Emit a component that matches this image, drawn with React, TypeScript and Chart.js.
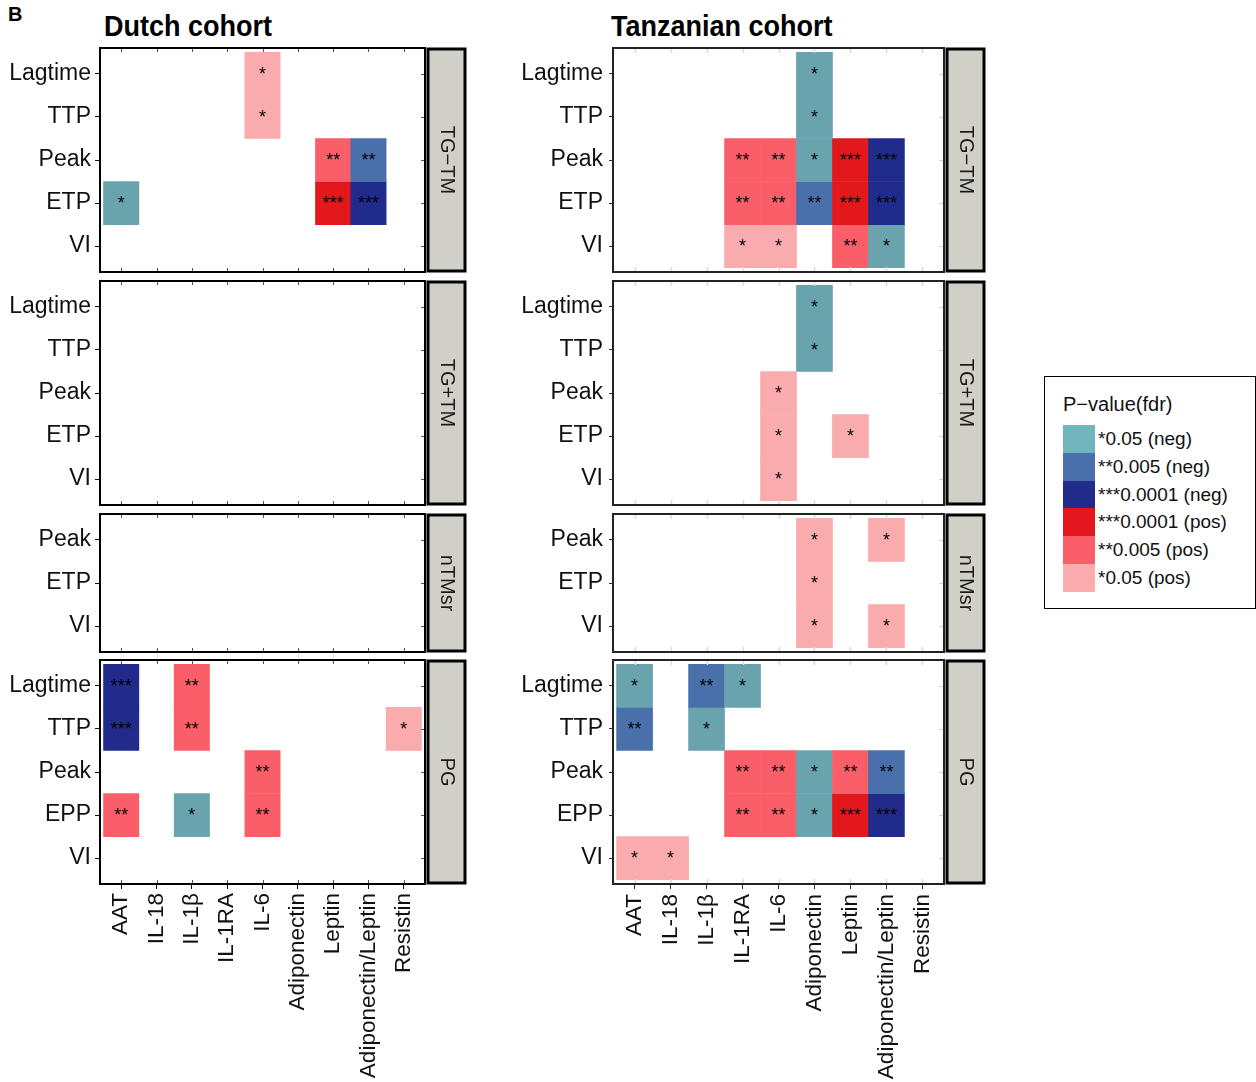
import React, { useEffect, useRef } from "react";
import { Chart, registerables } from "chart.js";

Chart.register(...registerables);

const FONT = "'Liberation Sans', Arial, Helvetica, sans-serif";

// ---------- data ----------
const categories = ["AAT", "IL-18", "IL-1β", "IL-1RA", "IL-6", "Adiponectin", "Leptin", "Adiponectin/Leptin", "Resistin"];
const rowsTG = ["Lagtime", "TTP", "Peak", "ETP", "VI"];
const rowsNTM = ["Peak", "ETP", "VI"];
const rowsPG = ["Lagtime", "TTP", "Peak", "EPP", "VI"];
const stripLabels = ["TG\u2212TM", "TG+TM", "nTMsr", "PG"];

const _ = "";
// levels: n1 *0.05 (neg), n2 **0.005 (neg), n3 ***0.0001 (neg), p3 ***0.0001 (pos), p2 **0.005 (pos), p1 *0.05 (pos)
const dutchTGminusTM = [
  [_, _, _, _, "p1", _, _, _, _],
  [_, _, _, _, "p1", _, _, _, _],
  [_, _, _, _, _, _, "p2", "n2", _],
  ["n1", _, _, _, _, _, "p3", "n3", _],
  [_, _, _, _, _, _, _, _, _],
];
const dutchTGplusTM = [
  [_, _, _, _, _, _, _, _, _],
  [_, _, _, _, _, _, _, _, _],
  [_, _, _, _, _, _, _, _, _],
  [_, _, _, _, _, _, _, _, _],
  [_, _, _, _, _, _, _, _, _],
];
const dutchNTMsr = [
  [_, _, _, _, _, _, _, _, _],
  [_, _, _, _, _, _, _, _, _],
  [_, _, _, _, _, _, _, _, _],
];
const dutchPG = [
  ["n3", _, "p2", _, _, _, _, _, _],
  ["n3", _, "p2", _, _, _, _, _, "p1"],
  [_, _, _, _, "p2", _, _, _, _],
  ["p2", _, "n1", _, "p2", _, _, _, _],
  [_, _, _, _, _, _, _, _, _],
];
const tzTGminusTM = [
  [_, _, _, _, _, "n1", _, _, _],
  [_, _, _, _, _, "n1", _, _, _],
  [_, _, _, "p2", "p2", "n1", "p3", "n3", _],
  [_, _, _, "p2", "p2", "n2", "p3", "n3", _],
  [_, _, _, "p1", "p1", _, "p2", "n1", _],
];
const tzTGplusTM = [
  [_, _, _, _, _, "n1", _, _, _],
  [_, _, _, _, _, "n1", _, _, _],
  [_, _, _, _, "p1", _, _, _, _],
  [_, _, _, _, "p1", _, "p1", _, _],
  [_, _, _, _, "p1", _, _, _, _],
];
const tzNTMsr = [
  [_, _, _, _, _, "p1", _, "p1", _],
  [_, _, _, _, _, "p1", _, _, _],
  [_, _, _, _, _, "p1", _, "p1", _],
];
const tzPG = [
  ["n1", _, "n2", "n1", _, _, _, _, _],
  ["n2", _, "n1", _, _, _, _, _, _],
  [_, _, _, "p2", "p2", "n1", "p2", "n2", _],
  [_, _, _, "p2", "p2", "n1", "p3", "n3", _],
  ["p1", "p1", _, _, _, _, _, _, _],
];

const legendLevels = ["n1", "n2", "n3", "p3", "p2", "p1"];
const legendLabels = ["*0.05 (neg)", "**0.005 (neg)", "***0.0001 (neg)", "***0.0001 (pos)", "**0.005 (pos)", "*0.05 (pos)"];

const levelColor: Record<string, string> = {
  n1: "#68a3ae",
  n2: "#4a70ab",
  n3: "#202b8c",
  p3: "#e3181c",
  p2: "#fa5f69",
  p1: "#f9abae",
};
const legendColor: Record<string, string> = { ...levelColor, n1: "#72b4be" };
const levelStars: Record<string, string> = { n1: "*", n2: "**", n3: "***", p3: "***", p2: "**", p1: "*" };

// ---------- layout ----------
const PANEL_Y = [
  [48, 272],
  [281, 505],
  [514, 652],
  [660, 884],
];
const PAGE_H = 1082;
const Y_AXIS_W = 100;
const RIGHT_PAD = 45;

type Style = {
  tickColor: string;
  yTickLen: number;
  yPad: number;
  xPad: number;
  innerColor: string;
  innerLen: number;
  innerWidth: number;
  frameColor: string;
};
const dutchStyle: Style = { tickColor: "#111", yTickLen: 5, yPad: 4, xPad: 4, innerColor: "#555", innerLen: 4, innerWidth: 1, frameColor: "#000" };
const tzStyle: Style = { tickColor: "#333", yTickLen: 4, yPad: 6, xPad: 5, innerColor: "#d9d9d9", innerLen: 5, innerWidth: 1.5, frameColor: "#222" };

type PanelProps = {
  plotLeft: number;
  plotRight: number;
  idx: number;
  rows: string[];
  matrix: string[][];
  strip: string;
  st: Style;
};

const panelPlugin = {
  id: "panelDeco",
  afterDatasetsDraw(chart: any, _args: any, opts: any) {
    const ctx = chart.ctx;
    const { left, right, top, bottom } = chart.chartArea;
    const xs = chart.scales.x;
    const ys = chart.scales.y;
    const st: Style = opts.st;
    // stars
    ctx.save();
    ctx.fillStyle = "#000";
    ctx.font = `18px ${FONT}`;
    ctx.textAlign = "center";
    ctx.textBaseline = "middle";
    chart.data.datasets.forEach((ds: any, di: number) => {
      const meta = chart.getDatasetMeta(di);
      meta.data.forEach((el: any, i: number) => {
        const raw = ds.data[i];
        if (!raw) return;
        const c = el.getCenterPoint();
        ctx.fillText(levelStars[raw.lv], c.x, c.y + 1);
      });
    });
    // inner ticks
    ctx.strokeStyle = st.innerColor;
    ctx.lineWidth = st.innerWidth;
    ctx.beginPath();
    xs.ticks.forEach((t: any) => {
      const px = Math.round(xs.getPixelForValue(t.value)) + 0.5;
      ctx.moveTo(px, top);
      ctx.lineTo(px, top + st.innerLen);
      ctx.moveTo(px, bottom);
      ctx.lineTo(px, bottom - st.innerLen);
    });
    ys.ticks.forEach((t: any) => {
      const py = Math.round(ys.getPixelForValue(t.value)) + 0.5;
      ctx.moveTo(right, py);
      ctx.lineTo(right - st.innerLen, py);
    });
    ctx.stroke();
    // frame
    ctx.strokeStyle = st.frameColor;
    ctx.lineWidth = 2;
    ctx.strokeRect(left, top, right - left, bottom - top);
    // strip
    const sx = right + 3;
    const sw = 37;
    ctx.fillStyle = "#d0d0c9";
    ctx.fillRect(sx, top + 1, sw, bottom - top - 2);
    ctx.strokeStyle = "#000";
    ctx.lineWidth = 3;
    ctx.strokeRect(sx, top + 1, sw, bottom - top - 2);
    ctx.translate(sx + sw / 2, (top + bottom) / 2);
    ctx.rotate(Math.PI / 2);
    ctx.fillStyle = "#1a1a1a";
    ctx.font = `20px ${FONT}`;
    ctx.textAlign = "center";
    ctx.textBaseline = "middle";
    ctx.fillText(opts.label, 0, 0);
    ctx.restore();
  },
};

function Panel({ plotLeft, plotRight, idx, rows, matrix, strip, st }: PanelProps) {
  const ref = useRef<HTMLCanvasElement | null>(null);
  const [pTop, pBot] = PANEL_Y[idx];
  const isBottom = idx === PANEL_Y.length - 1;
  const cLeft = plotLeft - Y_AXIS_W;
  const cTop = pTop - 4;
  const cW = plotRight - plotLeft + Y_AXIS_W + RIGHT_PAD;
  const cH = isBottom ? PAGE_H - cTop : pBot - pTop + 8;

  useEffect(() => {
    if (!ref.current) return;
    const datasets = rows.map((r, ri) => ({
      label: r,
      data: matrix[ri]
        .map((lv, ci) => (lv ? { x: ci, y: [ri - 0.5, ri + 0.5], lv } : null))
        .filter(Boolean),
      backgroundColor: (c: any) => (c.raw && c.raw.lv ? levelColor[c.raw.lv] : "rgba(0,0,0,0)"),
      borderWidth: 0,
      grouped: false,
      barPercentage: 1,
      categoryPercentage: 1,
    }));
    const chart = new Chart(ref.current, {
      type: "bar",
      data: { datasets: datasets as any },
      options: {
        animation: false,
        responsive: false,
        maintainAspectRatio: false,
        events: [],
        layout: { autoPadding: false, padding: { left: 0, right: RIGHT_PAD, top: 4, bottom: isBottom ? 0 : 4 } },
        plugins: {
          legend: { display: false },
          tooltip: { enabled: false },
          panelDeco: { st, label: strip },
        } as any,
        scales: {
          x: {
            type: "linear",
            min: -0.6,
            max: categories.length - 0.4,
            offset: false,
            afterBuildTicks: (s: any) => {
              s.ticks = categories.map((_c, i) => ({ value: i }));
            },
            afterFit: (s: any) => {
              s.height = isBottom ? PAGE_H - pBot : 0;
              s.paddingLeft = 0;
              s.paddingRight = 0;
            },
            grid: {
              display: isBottom,
              drawOnChartArea: false,
              drawTicks: true,
              tickLength: 5,
              color: st.tickColor,
              lineWidth: 1,
              offset: false,
            },
            border: { display: false },
            ticks: {
              display: isBottom,
              autoSkip: false,
              minRotation: 90,
              maxRotation: 90,
              padding: st.xPad,
              color: "#111",
              font: { family: FONT, size: 22.5 },
              callback: (v: any) => categories[v],
            },
          },
          y: {
            type: "linear",
            reverse: true,
            min: -0.6,
            max: rows.length - 0.4,
            afterBuildTicks: (s: any) => {
              s.ticks = rows.map((_r, i) => ({ value: i }));
            },
            afterFit: (s: any) => {
              s.width = Y_AXIS_W;
              s.paddingTop = 0;
              s.paddingBottom = 0;
            },
            grid: {
              display: true,
              drawOnChartArea: false,
              drawTicks: true,
              tickLength: st.yTickLen,
              color: st.tickColor,
              lineWidth: 1,
            },
            border: { display: false },
            ticks: {
              autoSkip: false,
              padding: st.yPad,
              color: "#111",
              font: { family: FONT, size: 23 },
              callback: (v: any) => rows[v],
            },
          },
        } as any,
      },
      plugins: [panelPlugin as any],
    });
    return () => chart.destroy();
  }, []);

  return (
    <canvas
      ref={ref}
      width={cW}
      height={cH}
      style={{ position: "absolute", left: cLeft, top: cTop, width: cW, height: cH }}
    />
  );
}

export default function App() {
  const dutch = [dutchTGminusTM, dutchTGplusTM, dutchNTMsr, dutchPG];
  const tz = [tzTGminusTM, tzTGplusTM, tzNTMsr, tzPG];
  const rowSets = [rowsTG, rowsTG, rowsNTM, rowsPG];
  return (
    <div style={{ position: "absolute", left: 0, top: 0, width: 1256, height: 1082, background: "#fff", fontFamily: FONT, overflow: "hidden" }}>
      <div style={{ position: "absolute", left: 8, top: 2, fontSize: 20, fontWeight: 700, lineHeight: "24px" }}>B</div>
      <div style={{ position: "absolute", left: 104, top: 8, fontSize: 30, fontWeight: 700, lineHeight: "36px", transform: "scaleX(0.9)", transformOrigin: "left top", whiteSpace: "nowrap" }}>
        Dutch cohort
      </div>
      <div style={{ position: "absolute", left: 611, top: 8, fontSize: 30, fontWeight: 700, lineHeight: "36px", transform: "scaleX(0.9)", transformOrigin: "left top", whiteSpace: "nowrap" }}>
        Tanzanian cohort
      </div>
      {dutch.map((m, i) => (
        <Panel key={"d" + i} plotLeft={100} plotRight={425} idx={i} rows={rowSets[i]} matrix={m} strip={stripLabels[i]} st={dutchStyle} />
      ))}
      {tz.map((m, i) => (
        <Panel key={"t" + i} plotLeft={613} plotRight={944} idx={i} rows={rowSets[i]} matrix={m} strip={stripLabels[i]} st={tzStyle} />
      ))}
      <div
        style={{
          position: "absolute",
          left: 1044,
          top: 376,
          width: 212,
          height: 233,
          boxSizing: "border-box",
          border: "1.5px solid #000",
          background: "#fff",
        }}
      >
        <div style={{ position: "absolute", left: 18, top: 14, fontSize: 20, lineHeight: "26px", color: "#111", whiteSpace: "nowrap" }}>
          P{"\u2212"}value(fdr)
        </div>
        {legendLevels.map((lv, i) => (
          <div key={lv} style={{ position: "absolute", left: 18, top: 48 + i * 27.8, height: 28, display: "flex", alignItems: "center", whiteSpace: "nowrap" }}>
            <div style={{ width: 32, height: 28, background: legendColor[lv] }} />
            <div style={{ marginLeft: 3, fontSize: 19, color: "#111" }}>{legendLabels[i]}</div>
          </div>
        ))}
      </div>
    </div>
  );
}
